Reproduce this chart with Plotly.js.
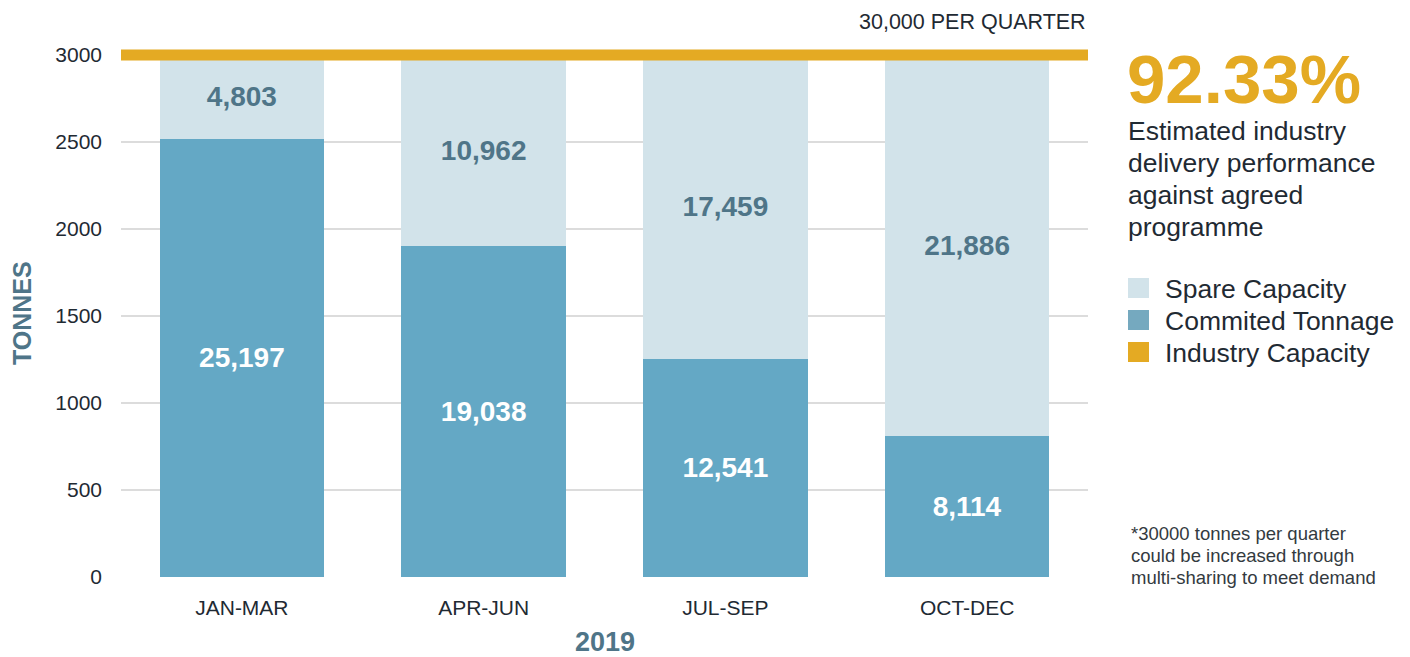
<!DOCTYPE html>
<html>
<head>
<meta charset="utf-8">
<script src="https://cdn.plot.ly/plotly-3.0.1.min.js"></script>
<style>
html,body{margin:0;padding:0;background:#fff;}
#chart{width:1410px;height:657px;}
</style>
</head>
<body>
<div id="chart"></div>
<script>
// ---- data ----
const quarters = ['JAN-MAR', 'APR-JUN', 'JUL-SEP', 'OCT-DEC'];
const committedTonnage = [25197, 19038, 12541, 8114];
const spareCapacity = [4803, 10962, 17459, 21886];
const industryCapacity = 30000;
const tickValues = [0, 5000, 10000, 15000, 20000, 25000, 30000];
const tickLabels = ['0', '500', '1000', '1500', '2000', '2500', '3000'];
const performance = '92.33%';
const descriptionLines = ['Estimated industry', 'delivery performance', 'against agreed', 'programme'];
const footnoteLines = ['*30000 tonnes per quarter', 'could be increased through', 'multi-sharing to meet demand'];
const legendNames = ['Spare Capacity', 'Commited Tonnage', 'Industry Capacity'];

const FONT = 'Liberation Sans, Arial, Helvetica, sans-serif';
const C_COMMIT = '#64a8c5';
const C_SPARE = '#d2e3ea';
const C_GOLD = '#e4aa23';
const C_LABEL = '#4f7588';
const C_TEXT = '#1f2a33';

const fmt = v => v.toLocaleString('en-US');

const traces = [
  {
    type: 'bar', x: quarters, y: committedTonnage, name: legendNames[1],
    marker: {color: C_COMMIT},
    text: committedTonnage.map(fmt), textposition: 'inside', insidetextanchor: 'middle',
    constraintext: 'none',
    textfont: {family: FONT, size: 28, color: '#ffffff', weight: 'bold'},
    hoverinfo: 'skip', showlegend: false
  },
  {
    type: 'bar', x: quarters, y: spareCapacity, name: legendNames[0],
    marker: {color: C_SPARE},
    text: spareCapacity.map(fmt), textposition: 'inside', insidetextanchor: 'middle',
    constraintext: 'none',
    textfont: {family: FONT, size: 28, color: C_LABEL, weight: 'bold'},
    hoverinfo: 'skip', showlegend: false
  }
];

// pixel helpers for the side panel (plot area: x 121..1088, y bottom 577)
const PL = 121, PW = 967, PB = 577, PH = 529;
const px = x => (x - PL) / PW;
const py = y => (PB - y) / PH;

const legendColors = [C_SPARE, '#75a9bf', C_GOLD];
const legendY = [288, 320, 352];
const shapes = [
  {type: 'line', xref: 'paper', yref: 'y', x0: 0, x1: 1, y0: industryCapacity, y1: industryCapacity,
   line: {color: C_GOLD, width: 11}, layer: 'above'}
];
const annotations = [
  {xref: 'paper', yref: 'paper', x: 1, y: py(22), xanchor: 'right', yanchor: 'middle',
   text: '30,000 PER QUARTER', showarrow: false, font: {family: FONT, size: 21.5, color: C_TEXT}},
  {xref: 'paper', yref: 'paper', x: px(22), y: py(313), xanchor: 'center', yanchor: 'middle',
   text: '<b>TONNES</b>', textangle: -90, showarrow: false, font: {family: FONT, size: 25, color: C_LABEL}},
  {xref: 'paper', yref: 'paper', x: 0.5, y: py(642), xanchor: 'center', yanchor: 'middle',
   text: '<b>2019</b>', showarrow: false, font: {family: FONT, size: 27, color: C_LABEL}},
  {xref: 'paper', yref: 'paper', x: px(1125), y: py(79), xanchor: 'left', yanchor: 'middle',
   text: '<b>' + performance + '</b>', showarrow: false, font: {family: FONT, size: 69, color: C_GOLD}}
];
descriptionLines.forEach((t, i) => {
  annotations.push({xref: 'paper', yref: 'paper', x: px(1126), y: py(131 + 32 * i), xanchor: 'left', yanchor: 'middle',
    text: t, showarrow: false, font: {family: FONT, size: 26.5, color: C_TEXT}});
});
footnoteLines.forEach((t, i) => {
  annotations.push({xref: 'paper', yref: 'paper', x: px(1129), y: py(533 + 22 * i), xanchor: 'left', yanchor: 'middle',
    text: t, showarrow: false, font: {family: FONT, size: 18.5, color: '#333a40'}});
});
legendNames.forEach((n, i) => {
  const yc = legendY[i];
  shapes.push({type: 'rect', xref: 'paper', yref: 'paper',
    x0: px(1128), x1: px(1149), y0: py(yc + 10), y1: py(yc - 10),
    fillcolor: legendColors[i], line: {width: 0}});
  annotations.push({xref: 'paper', yref: 'paper', x: px(1163), y: py(yc + 1),
    xanchor: 'left', yanchor: 'middle', text: n, showarrow: false,
    font: {family: FONT, size: 26.5, color: C_TEXT}});
});

const layout = {
  width: 1410, height: 657,
  margin: {l: 121, r: 322, t: 48, b: 80},
  paper_bgcolor: '#ffffff', plot_bgcolor: '#ffffff',
  barmode: 'stack', bargap: 0.32,
  font: {family: FONT, size: 20, color: C_TEXT},
  showlegend: false,
  xaxis: {
    type: 'category', showgrid: false, zeroline: false, showline: false, ticks: '',
    tickfont: {family: FONT, size: 21, color: C_TEXT}, ticklabelstandoff: 16
  },
  yaxis: {
    range: [0, 30400], tickvals: tickValues, ticktext: tickLabels,
    showgrid: true, gridcolor: '#dcdcdc', gridwidth: 1.5, zeroline: false, showline: false, ticks: '',
    tickfont: {family: FONT, size: 21, color: C_TEXT}, ticklabelstandoff: 18
  },
  shapes: shapes,
  annotations: annotations
};

Plotly.newPlot('chart', traces, layout, {displayModeBar: false, staticPlot: true});
</script>
</body>
</html>
